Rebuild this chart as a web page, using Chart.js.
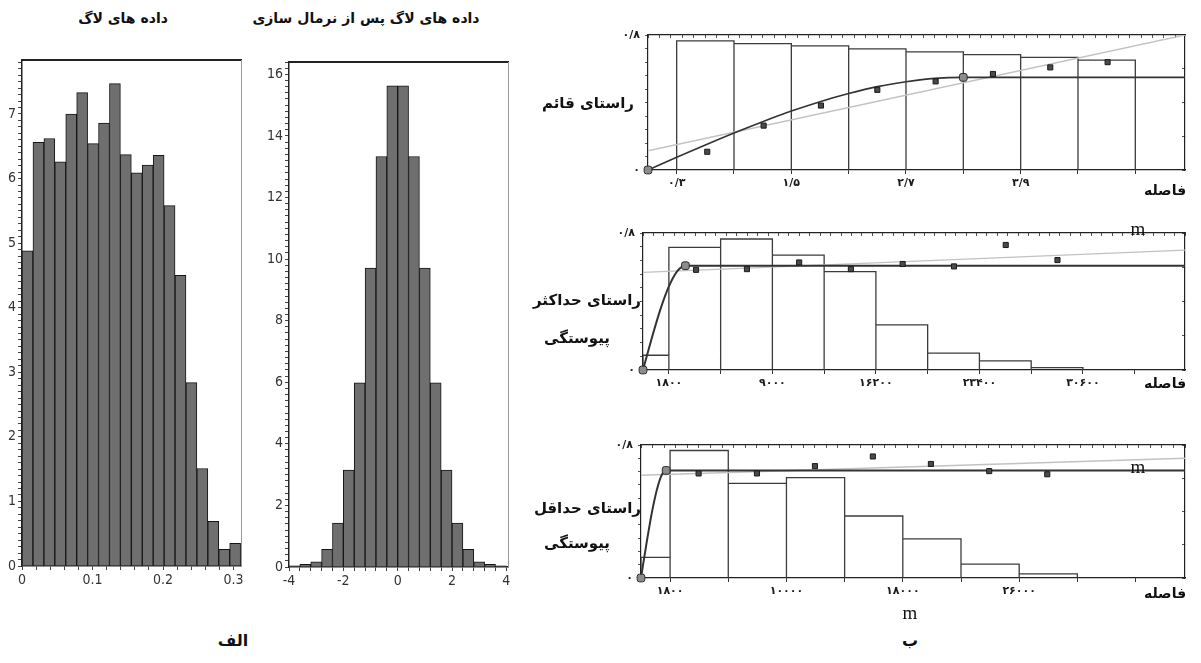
<!DOCTYPE html>
<html lang="fa">
<head>
<meta charset="utf-8">
<title>variogram</title>
<script src="https://cdn.jsdelivr.net/npm/chart.js@4.4.1/dist/chart.umd.min.js"></script>
<style>
  body { margin: 0; width: 1201px; height: 663px; background: #fff; position: relative; overflow: hidden; }
  canvas { position: absolute; }
  .lbl { position: absolute; font-family: 'DejaVu Sans', sans-serif; font-weight: bold; color: #111; white-space: nowrap; direction: rtl; z-index: 2; line-height: 1; }
  .c { transform: translate(-50%, -50%); }
  .r { transform: translateY(-50%); }
  .m { position: absolute; font-family: 'Liberation Serif', serif; font-size: 19px; color: #111; transform: translate(-50%, -50%); z-index: 2; line-height: 1; }
</style>
</head>
<body>
<canvas id="log" width="250" height="545" style="left:0;top:50px"></canvas>
<canvas id="norm" width="260" height="545" style="left:255px;top:50px"></canvas>
<canvas id="vert" width="605" height="180" style="left:590px;top:22px"></canvas>
<canvas id="maxc" width="605" height="180" style="left:590px;top:220px"></canvas>
<canvas id="minc" width="605" height="180" style="left:590px;top:432px"></canvas>

<div class="lbl c" style="left:123px;top:18px;font-size:14px">داده های لاگ</div>
<div class="lbl c" style="left:366px;top:18px;font-size:14px">داده های لاگ پس از نرمال سازی</div>
<div class="lbl c" style="left:233px;top:641px;font-size:16px">الف</div>
<div class="lbl c" style="left:910px;top:641px;font-size:16px">ب</div>

<div class="lbl r" style="right:567px;top:103px;font-size:15px">راستای قائم</div>
<div class="lbl r" style="right:560px;top:300px;font-size:15px">راستای حداکثر</div>
<div class="lbl c" style="left:577px;top:338px;font-size:15px">پیوستگی</div>
<div class="lbl r" style="right:560px;top:508px;font-size:15px">راستای حداقل</div>
<div class="lbl c" style="left:577px;top:543px;font-size:15px">پیوستگی</div>

<div class="lbl c" style="left:1165px;top:190px;font-size:14px">فاصله</div>
<div class="lbl c" style="left:1165px;top:383px;font-size:14px">فاصله</div>
<div class="lbl c" style="left:1165px;top:593px;font-size:14px">فاصله</div>

<div class="m" style="left:1138px;top:228px">m</div>
<div class="m" style="left:1138px;top:466px">m</div>
<div class="m" style="left:910px;top:612px">m</div>

<script>
// log data histogram
var logCenters = [0.0078, 0.0233, 0.0388, 0.0543, 0.0698, 0.0853, 0.1008, 0.1163, 0.1318, 0.1473,
                  0.1628, 0.1783, 0.1938, 0.2093, 0.2248, 0.2403, 0.2558, 0.2713, 0.2868, 0.3023];
var logFreq = [4.88, 6.56, 6.62, 6.26, 7.0, 7.33, 6.54, 6.86, 7.47, 6.37,
               6.09, 6.21, 6.36, 5.58, 4.50, 2.84, 1.51, 0.69, 0.26, 0.35];
var logTickVals = [0, 0.1, 0.2, 0.3];
var logTickLabels = ['0', '0.1', '0.2', '0.3'];
var logYTicks = [0, 1, 2, 3, 4, 5, 6, 7];

// normal score histogram
var normCenters = [-3.8, -3.4, -3.0, -2.6, -2.2, -1.8, -1.4, -1.0, -0.6, -0.2,
                   0.2, 0.6, 1.0, 1.4, 1.8, 2.2, 2.6, 3.0, 3.4, 3.8];
var normFreq = [0.04, 0.09, 0.17, 0.57, 1.43, 3.15, 5.98, 9.71, 13.33, 15.63,
                15.63, 13.33, 9.71, 5.98, 3.15, 1.43, 0.57, 0.17, 0.09, 0.04];
var normTickVals = [-4, -2, 0, 2, 4];
var normTickLabels = ['-4', '-2', '0', '2', '4'];
var normYTicks = [0, 2, 4, 6, 8, 10, 12, 14, 16];

// variogram y labels (shared)
var vgYTickVals = [0, 0.8];
var vgYTickLabels = ['۰', '۰/۸'];

// vertical direction
var vertEdges = [0.3, 0.9, 1.5, 2.1, 2.7, 3.3, 3.9, 4.5, 5.1];
var vertPairs = [0.765, 0.749, 0.735, 0.718, 0.700, 0.684, 0.667, 0.651];
var vertLag = [0.62, 1.21, 1.81, 2.40, 3.01, 3.61, 4.21, 4.81];
var vertGamma = [0.108, 0.263, 0.382, 0.475, 0.525, 0.569, 0.608, 0.639];
var vertModelLag = [0, 0.3, 0.6, 0.9, 1.2, 1.5, 1.8, 2.1, 2.4, 2.7, 3.0, 3.3, 5.62];
var vertModelVal = [0, 0.075, 0.148, 0.219, 0.286, 0.349, 0.405, 0.453, 0.494, 0.523, 0.543, 0.549, 0.549];
var vertAnchorLag = [0, 3.3];
var vertAnchorVal = [0, 0.549];
var vertTrendLag = [0, 5.62];
var vertTrendVal = [0.114, 0.8];
var vertTicks = [0.3, 1.5, 2.7, 3.9];
var vertTickLabels = ['۰/۳', '۱/۵', '۲/۷', '۳/۹'];

// max continuity direction
var maxEdges = [0, 1800, 5400, 9000, 12600, 16200, 19800, 23400, 27000, 30600];
var maxPairs = [0.086, 0.716, 0.765, 0.671, 0.574, 0.263, 0.098, 0.053, 0.014];
var maxLag = [3690, 7230, 10860, 14460, 18060, 21630, 25230, 28830];
var maxGamma = [0.585, 0.589, 0.628, 0.589, 0.619, 0.605, 0.730, 0.642];
var maxModelLag = [0, 600, 1200, 1800, 2400, 2950, 37700];
var maxModelVal = [0, 0.183, 0.351, 0.488, 0.579, 0.609, 0.609];
var maxAnchorLag = [0, 2950];
var maxAnchorVal = [0, 0.609];
var maxTrendLag = [0, 37700];
var maxTrendVal = [0.570, 0.700];
var maxTicks = [1800, 9000, 16200, 23400, 30600];
var maxTickLabels = ['۱۸۰۰', '۹۰۰۰', '۱۶۲۰۰', '۲۳۴۰۰', '۳۰۶۰۰'];

// min continuity direction
var minEdges = [0, 2000, 6000, 10000, 14000, 18000, 22000, 26000, 30000];
var minPairs = [0.124, 0.767, 0.569, 0.604, 0.373, 0.235, 0.084, 0.025];
var minLag = [3960, 7970, 11960, 15940, 19930, 23940, 27930];
var minGamma = [0.629, 0.629, 0.673, 0.731, 0.686, 0.643, 0.624];
var minModelLag = [0, 400, 800, 1200, 1500, 1730, 37400];
var minModelVal = [0, 0.220, 0.417, 0.565, 0.631, 0.647, 0.647];
var minAnchorLag = [0, 1730];
var minAnchorVal = [0, 0.647];
var minTrendLag = [0, 37400];
var minTrendVal = [0.618, 0.720];
var minTicks = [2000, 10000, 18000, 26000];
var minTickLabels = ['۱۸۰۰', '۱۰۰۰۰', '۱۸۰۰۰', '۲۶۰۰۰'];


function pick(vals, labels) {
    return function (v) {
        for (var i = 0; i < vals.length; i++) {
            if (Math.abs(vals[i] - v) < 1e-7 * Math.max(1, Math.abs(vals[i]))) return labels[i];
        }
        return '';
    };
}

function pts(xs, ys) {
    return xs.map(function (x, i) { return {x: x, y: ys[i]}; });
}

// bar outlines, each bar closed down to the baseline
function outline(edges, vals) {
    var out = [];
    for (var i = 0; i < vals.length; i++) {
        out.push({x: edges[i], y: 0}, {x: edges[i], y: vals[i]},
                 {x: edges[i + 1], y: vals[i]}, {x: edges[i + 1], y: 0});
    }
    return out;
}

var narrow = {family: "'Liberation Sans Narrow', 'DejaVu Sans Condensed', sans-serif", size: 14};
var persian = {family: "'DejaVu Sans', sans-serif", size: 11, weight: 'bold'};

function histPanel(id, centers, freq, o) {
    new Chart(document.getElementById(id), {
        type: 'bar',
        data: {datasets: [{
            data: pts(centers, freq),
            backgroundColor: '#6f6f6f',
            borderColor: '#151515',
            borderWidth: 1,
            barPercentage: 1,
            categoryPercentage: 1
        }]},
        options: {
            responsive: false, animation: false, events: [],
            layout: {padding: {top: o.padTop, right: o.padRight, left: 0, bottom: 0}},
            plugins: {legend: {display: false}, tooltip: {enabled: false}},
            scales: {
                x: {type: 'linear', min: o.xMin, max: o.xMax, offset: false,
                    afterFit: function (s) { s.height = o.xH; },
                    grid: {offset: false, drawOnChartArea: false, tickLength: 4, color: '#444'},
                    border: {color: '#222', width: 1.5},
                    ticks: {stepSize: o.xStep, includeBounds: false, autoSkip: false, maxRotation: 0,
                            padding: 2, color: '#333', font: narrow, callback: pick(o.xVals, o.xLabels)}},
                y: {min: 0, max: o.yMax,
                    afterFit: function (s) { s.width = o.yW; },
                    grid: {drawOnChartArea: false, tickLength: 4, color: '#444'},
                    border: {color: '#222', width: 1.5},
                    ticks: {stepSize: o.yStep, includeBounds: false, autoSkip: false, padding: 2,
                            color: '#333', font: narrow, callback: pick(o.yVals, o.yVals.map(String))}},
                xTop: {position: 'top', type: 'linear', afterFit: function (s) { s.height = 0; },
                       grid: {display: false}, ticks: {display: false}, border: {color: '#222', width: 2}},
                yRight: {position: 'right', afterFit: function (s) { s.width = 0; },
                         grid: {display: false}, ticks: {display: false}, border: {color: '#999', width: 1}}
            }
        }
    });
}

function vgPanel(id, d, o) {
    var bin = (d.ticks[1] - d.ticks[0]) / 2;
    new Chart(document.getElementById(id), {
        type: 'scatter',
        data: {datasets: [
            {data: pts(d.anchorLag, d.anchorVal), pointStyle: 'rectRounded', pointRadius: 4.5,
             backgroundColor: '#8c8c8c', borderColor: '#2a2a2a', borderWidth: 1, clip: false},
            {data: pts(d.lag, d.gamma), pointStyle: 'rect', pointRadius: 3.6,
             backgroundColor: '#4a4a4a', borderColor: '#1a1a1a', borderWidth: 1},
            {data: pts(d.modelLag, d.modelVal), showLine: true, pointRadius: 0, borderColor: '#333',
             borderWidth: o.modelW, cubicInterpolationMode: 'monotone'},
            {data: pts(d.trendLag, d.trendVal), showLine: true, pointRadius: 0, borderColor: '#c2c2c2', borderWidth: 1.4},
            {data: outline(d.edges, d.pairs), showLine: true, pointRadius: 0, borderColor: '#3c3c3c', borderWidth: 1.3}
        ]},
        options: {
            responsive: false, animation: false, events: [],
            layout: {padding: {top: o.padTop, right: o.padRight, left: 0, bottom: 0}},
            plugins: {legend: {display: false}, tooltip: {enabled: false}},
            scales: {
                x: {type: 'linear', min: 0, max: d.xMax,
                    afterFit: function (s) { s.height = o.xH; },
                    afterBuildTicks: function (s) {
                        var t = [];
                        for (var v = d.ticks[0]; v <= d.xMax + 1e-9; v += bin) t.push({value: v});
                        s.ticks = t;
                    },
                    grid: {drawOnChartArea: false, tickLength: 4, color: '#333'},
                    border: {color: '#222', width: 1.2},
                    ticks: {autoSkip: false, maxRotation: 0, padding: 3, color: '#1a1a1a', font: persian,
                            callback: pick(d.ticks, d.tickLabels)}},
                y: {min: 0, max: 0.8,
                    afterFit: function (s) { s.width = o.yW; },
                    grid: {drawOnChartArea: false, tickLength: 3, color: '#555'},
                    border: {color: '#222', width: 1.2},
                    ticks: {stepSize: 0.08, autoSkip: false, padding: 5, color: '#1a1a1a', font: persian,
                            callback: pick(vgYTickVals, vgYTickLabels)}},
                xTop: {position: 'top', type: 'linear', min: 0, max: d.xMax,
                       afterFit: function (s) { s.height = 0; },
                       grid: {drawOnChartArea: false, tickLength: -3, color: '#555'},
                       border: {color: '#222', width: 1.2},
                       ticks: {display: false, stepSize: bin / 5, includeBounds: false}},
                yRight: {position: 'right', min: 0, max: 0.8,
                         afterFit: function (s) { s.width = 0; },
                         grid: {drawOnChartArea: false, tickLength: -3, color: '#555'},
                         border: {color: '#222', width: 1.2},
                         ticks: {display: false, stepSize: 0.2}}
            }
        }
    });
}

histPanel('log', logCenters, logFreq, {
    xMin: 0, xMax: 0.3106, xStep: 0.02, xVals: logTickVals, xLabels: logTickLabels,
    yMax: 7.83, yStep: 0.1, yVals: logYTicks,
    padTop: 10, padRight: 9, yW: 22, xH: 29
});

histPanel('norm', normCenters, normFreq, {
    xMin: -4, xMax: 4.06, xStep: 0.4, xVals: normTickVals, xLabels: normTickLabels,
    yMax: 16.4, yStep: 0.2, yVals: normYTicks,
    padTop: 12, padRight: 7, yW: 34, xH: 28
});

vgPanel('vert', {
    edges: vertEdges, pairs: vertPairs, lag: vertLag, gamma: vertGamma,
    modelLag: vertModelLag, modelVal: vertModelVal, anchorLag: vertAnchorLag, anchorVal: vertAnchorVal,
    trendLag: vertTrendLag, trendVal: vertTrendVal, ticks: vertTicks, tickLabels: vertTickLabels, xMax: 5.62
}, {padTop: 13, padRight: 10, yW: 58, xH: 32, modelW: 1.6});

vgPanel('maxc', {
    edges: maxEdges, pairs: maxPairs, lag: maxLag, gamma: maxGamma,
    modelLag: maxModelLag, modelVal: maxModelVal, anchorLag: maxAnchorLag, anchorVal: maxAnchorVal,
    trendLag: maxTrendLag, trendVal: maxTrendVal, ticks: maxTicks, tickLabels: maxTickLabels, xMax: 37700
}, {padTop: 13, padRight: 10, yW: 53, xH: 30, modelW: 2});

vgPanel('minc', {
    edges: minEdges, pairs: minPairs, lag: minLag, gamma: minGamma,
    modelLag: minModelLag, modelVal: minModelVal, anchorLag: minAnchorLag, anchorVal: minAnchorVal,
    trendLag: minTrendLag, trendVal: minTrendVal, ticks: minTicks, tickLabels: minTickLabels, xMax: 37400
}, {padTop: 13, padRight: 10, yW: 51, xH: 34, modelW: 2});
</script>
</body>
</html>
